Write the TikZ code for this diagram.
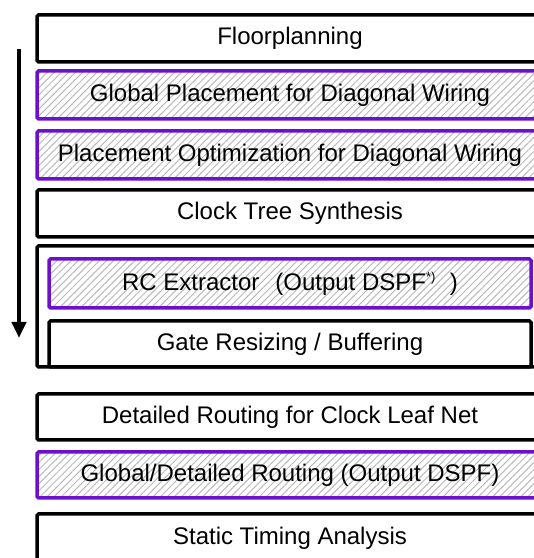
\documentclass[tikz,border=0pt]{standalone}
\usepackage{fontspec}
\setmainfont{Liberation Sans}
\usetikzlibrary{arrows.meta,patterns.meta}
\definecolor{boxpurple}{RGB}{108,16,206}
\definecolor{hatchgray}{RGB}{185,185,185}
\tikzset{
  plainbox/.style={draw=black, line width=3.5pt, fill=white, inner sep=0pt, rounded corners=1.5pt,
    font=\fontsize{24}{28}\selectfont},
  hatchbox/.style={draw=boxpurple, line width=3.5pt, inner sep=0pt, rounded corners=1.5pt,
    pattern={Lines[angle=45,distance=5pt,line width=1pt]}, pattern color=hatchgray,
    font=\fontsize{24}{28}\selectfont},
}
\begin{document}
\begin{tikzpicture}[x=1pt,y=1pt]
\useasboundingbox (0,0) rectangle (534,558);
\clip (0,0) rectangle (534,558);
% outer boxes: left 37, right 543 -> center 290, width 506
\node[plainbox, minimum width=506pt, minimum height=47pt] (fp) at (290,{558-38.5}) {Floorplanning};
\node[hatchbox, minimum width=506pt, minimum height=48pt] (gp) at (290,{558-95}) {Global Placement for Diagonal Wiring};
\node[hatchbox, minimum width=506pt, minimum height=48pt] (po) at (290,{558-155}) {Placement Optimization for Diagonal Wiring};
\node[plainbox, minimum width=506pt, minimum height=47pt] (cts) at (290,{558-213.5}) {Clock Tree Synthesis};
\node[plainbox, minimum width=506pt, minimum height=121pt] (grp) at (290,{558-306.5}) {};
\node[hatchbox, minimum width=482pt, minimum height=49pt] (rc) at (290,{558-283.5})
  {RC Extractor\hspace{16pt}(Output DSPF\textsuperscript{\fontsize{13}{14}\selectfont*)}\hspace{14pt})};
\node[plainbox, minimum width=482pt, minimum height=46pt] (gr) at (290,{558-344}) {Gate Resizing / Buffering};
\node[plainbox, minimum width=506pt, minimum height=46pt] (dr) at (290,{558-417}) {Detailed Routing for Clock Leaf Net};
\node[hatchbox, minimum width=506pt, minimum height=46pt] (gdr) at (290,{558-475}) {Global/Detailed Routing (Output DSPF)};
\node[plainbox, minimum width=506pt, minimum height=48pt] (sta) at (290,{558-538}) {Static Timing Analysis};
% flow arrow
\coordinate (as) at (19,{558-49});
\coordinate (ae) at (19,{558-338});
\draw[line width=4pt, -{Triangle[width=14pt,length=16pt]}] (as) -- (ae);
\end{tikzpicture}
\end{document}
